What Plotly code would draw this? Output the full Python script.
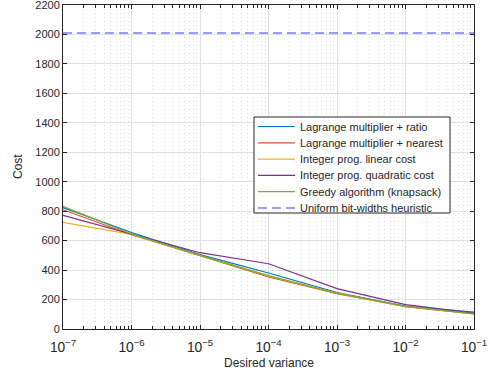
import plotly.graph_objects as go

# Desired variance levels (log scale)
variance = [1e-7, 1e-6, 1e-5, 1e-4, 1e-3, 1e-2, 1e-1]

# Cost for each allocation method
lagrange_ratio = [825, 655, 505, 380, 248, 156, 115]
lagrange_nearest = [810, 640, 498, 353, 240, 152, 102]
ip_linear = [724, 642, 500, 360, 243, 153, 104]
ip_quadratic = [772, 645, 518, 443, 274, 165, 108]
greedy = [833, 645, 500, 362, 243, 153, 103]
uniform = [2010] * len(variance)

y_ticks = list(range(0, 2201, 200))

series = [
    ("Lagrange multiplier + ratio", lagrange_ratio, "#0072BD", "solid"),
    ("Lagrange multiplier + nearest", lagrange_nearest, "#D95319", "solid"),
    ("Integer prog. linear cost", ip_linear, "#EDB120", "solid"),
    ("Integer prog. quadratic cost", ip_quadratic, "#7E2F8E", "solid"),
    ("Greedy algorithm (knapsack)", greedy, "#77AC30", "solid"),
    ("Uniform bit-widths heuristic", uniform, "#3a3aff", "9px,5px"),
]

W, H = 490, 374
M_L, M_R, M_T, M_B = 63, 16, 5, 45
PW, PH = W - M_L - M_R, H - M_T - M_B
TXT = "#262626"


def px(x):
    return (x - M_L) / PW


def py(y):
    return (H - M_B - y) / PH


fig = go.Figure()
for name, vals, color, dash in series:
    fig.add_trace(go.Scatter(
        x=variance, y=vals, mode="lines", name=name, showlegend=False,
        line=dict(color=color, width=1.2, dash=dash),
    ))

# Boxed legend drawn in paper coordinates
shapes = [dict(type="rect", xref="paper", yref="paper",
               x0=px(254), x1=px(450), y0=py(213), y1=py(117),
               line=dict(color=TXT, width=1), fillcolor="white", layer="above")]
annotations = []
row0, row_h = 126.5, 16.3
for i, (name, vals, color, dash) in enumerate(series):
    yy = py(row0 + i * row_h)
    shapes.append(dict(type="line", xref="paper", yref="paper",
                       x0=px(258), x1=px(295), y0=yy, y1=yy,
                       line=dict(color=color, width=1.2, dash=dash), layer="above"))
    annotations.append(dict(xref="paper", yref="paper", x=px(298), y=yy,
                            xanchor="left", yanchor="middle", text=name,
                            showarrow=False, font=dict(size=11, color=TXT)))

# Axis titles
annotations.append(dict(xref="paper", yref="paper", x=0.5, y=py(363),
                        xanchor="center", yanchor="middle", text="Desired variance",
                        showarrow=False, font=dict(size=12, color=TXT)))
annotations.append(dict(xref="paper", yref="paper", x=px(18), y=0.5,
                        xanchor="center", yanchor="middle", text="Cost", textangle=-90,
                        showarrow=False, font=dict(size=12, color=TXT)))

axis_common = dict(
    showline=True, linecolor=TXT, linewidth=1, mirror="ticks",
    ticks="inside", ticklen=4, tickcolor=TXT, automargin=False,
    ticklabeloverflow="allow",
    gridcolor="#e0e0e0", gridwidth=1, zeroline=False,
    tickfont=dict(size=11, color=TXT),
)

fig.update_xaxes(
    type="log", range=[-7, -1], dtick=1, exponentformat="power",
    showexponent="all", ticklabelstandoff=6,
    minor=dict(ticks="inside", ticklen=3, tickcolor=TXT, showgrid=True,
               gridcolor="#dcdcdc", griddash="1px,3px", gridwidth=1),
    **axis_common,
)
fig.update_yaxes(
    range=[0, 2200], tickvals=y_ticks,
    **axis_common,
)

fig.update_layout(
    width=W, height=H,
    margin=dict(l=M_L, r=M_R, t=M_T, b=M_B),
    paper_bgcolor="white", plot_bgcolor="white",
    font=dict(family="Liberation Sans, Arial, sans-serif", color=TXT),
    shapes=shapes, annotations=annotations,
)

fig.write_html("out.html")
